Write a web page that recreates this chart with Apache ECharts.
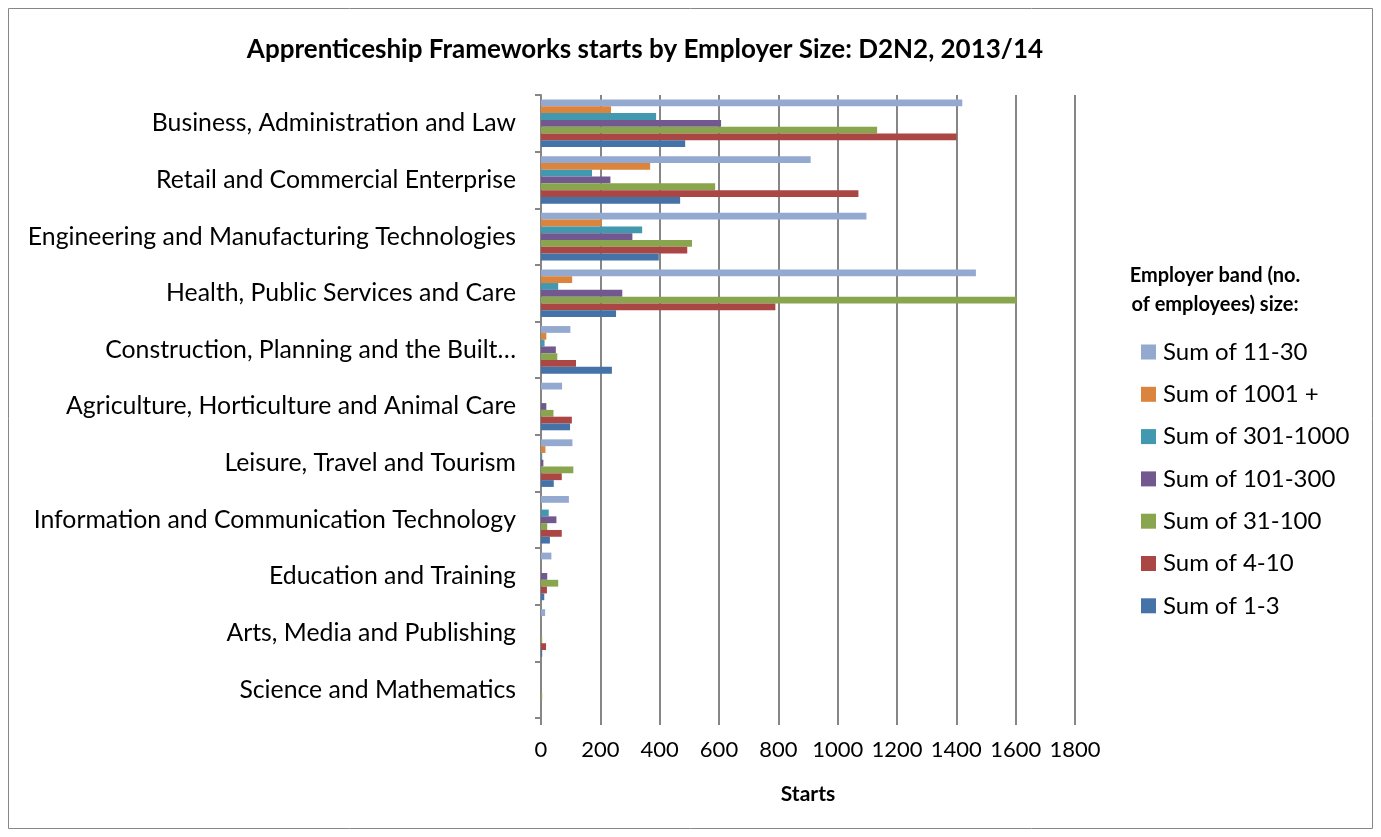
<!DOCTYPE html>
<html>
<head>
<meta charset="utf-8">
<script src="https://cdn.jsdelivr.net/npm/echarts@6/dist/echarts.min.js"></script>
<style>
  html, body { margin: 0; padding: 0; background: #fff; }
  #chart { width: 1381px; height: 837px; }
</style>
</head>
<body>
<div id="chart"></div>
<script>
// categories, top to bottom
var categories = [
  'Business, Administration and Law',
  'Retail and Commercial Enterprise',
  'Engineering and Manufacturing Technologies',
  'Health, Public Services and Care',
  'Construction, Planning and the Built\u2026',
  'Agriculture, Horticulture and Animal Care',
  'Leisure, Travel and Tourism',
  'Information and Communication Technology',
  'Education and Training',
  'Arts, Media and Publishing',
  'Science and Mathematics'
];

// starts per employer band
var band11to30    = [1420, 909, 1097, 1466, 99, 71, 106, 94, 35, 14, 0];
var band1001plus  = [236, 368, 205, 105, 18, 0, 15, 0, 0, 0, 0];
var band301to1000 = [388, 172, 341, 58, 12, 0, 4, 26, 0, 0, 0];
var band101to300  = [607, 234, 308, 274, 50, 18, 8, 52, 21, 0, 0];
var band31to100   = [1133, 587, 509, 1603, 55, 42, 109, 21, 58, 4, 4];
var band4to10     = [1401, 1070, 493, 790, 118, 104, 70, 70, 20, 17, 0];
var band1to3      = [486, 469, 397, 253, 239, 98, 43, 30, 11, 4, 0];

var xTicks = [0, 200, 400, 600, 800, 1000, 1200, 1400, 1600, 1800];

var font = 'Lato';
var gridGrey = '#868686';

var seriesDefs = [
  { name: 'Sum of 11-30',     data: band11to30,    color: '#93A9CF' },
  { name: 'Sum of 1001 +',    data: band1001plus,  color: '#DB843D' },
  { name: 'Sum of 301-1000',  data: band301to1000, color: '#4198AF' },
  { name: 'Sum of 101-300',   data: band101to300,  color: '#71588F' },
  { name: 'Sum of 31-100',    data: band31to100,   color: '#89A54E' },
  { name: 'Sum of 4-10',      data: band4to10,     color: '#AA4643' },
  { name: 'Sum of 1-3',       data: band1to3,      color: '#4572A7' }
];

var chart = echarts.init(document.getElementById('chart'));

var option = {
  backgroundColor: '#fff',
  animation: false,
  title: [
    {
      text: 'Apprenticeship Frameworks starts by Employer Size: D2N2, 2013/14',
      left: 640, top: 32, textAlign: 'center',
      textStyle: { fontFamily: font, fontSize: 26, fontWeight: 'bold', color: '#000' }
    },
    {
      text: 'Employer band (no.\nof employees) size:',
      left: 1210, top: 256, textAlign: 'center',
      textStyle: { fontFamily: font, fontSize: 20, fontWeight: 'bold', color: '#000', lineHeight: 29 }
    }
  ],
  graphic: [{
    type: 'rect',
    shape: { x: 8.5, y: 8.5, width: 1364, height: 820 },
    style: { fill: 'none', stroke: '#868686', lineWidth: 1 },
    silent: true
  }],
  legend: {
    orient: 'vertical',
    left: 1136, top: 334,
    itemWidth: 15, itemHeight: 15, itemGap: 16.3,
    icon: 'rect',
    textStyle: { fontFamily: font, fontSize: 24, color: '#000', lineHeight: 26, padding: [0, 0, 0, 2] },
    data: seriesDefs.map(function (s) { return s.name; })
  },
  grid: { left: 541, right: 306, top: 95, bottom: 119, containLabel: false },
  xAxis: {
    type: 'value',
    min: xTicks[0], max: xTicks[xTicks.length - 1], interval: 200,
    axisLine: { show: false },
    axisTick: { show: true, length: 7, lineStyle: { color: gridGrey, width: 2 } },
    axisLabel: {
      fontFamily: font, fontSize: 22, color: '#000', margin: 21,
      formatter: function (v) { return String(v); }
    },
    splitLine: { show: true, lineStyle: { color: gridGrey, width: 2 } },
    name: 'Starts', nameLocation: 'middle', nameGap: 66,
    nameTextStyle: { fontFamily: font, fontSize: 21, fontWeight: 'bold', color: '#000' }
  },
  yAxis: {
    type: 'category',
    inverse: true,
    data: categories,
    axisLine: { show: true, lineStyle: { color: gridGrey, width: 2 } },
    axisTick: { show: true, length: 6, lineStyle: { color: gridGrey, width: 2 } },
    axisLabel: { fontFamily: font, fontSize: 24.8, color: '#000', margin: 25 }
  },
  series: seriesDefs.map(function (s) {
    return {
      name: s.name, type: 'bar', data: s.data,
      barGap: '0%', barCategoryGap: '16%',
      itemStyle: { color: s.color }
    };
  })
};

chart.setOption(option);
</script>
</body>
</html>
